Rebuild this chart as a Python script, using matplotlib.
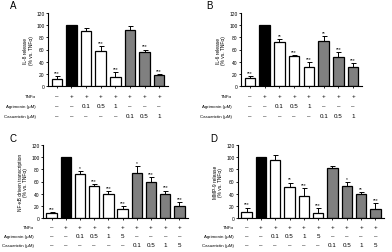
import matplotlib
matplotlib.use("Agg")
import matplotlib.pyplot as plt
import numpy as np

plt.rcParams["font.family"] = ["Liberation Sans", "DejaVu Sans"]

W, H = 392, 253

# panel A: IL-8
a_vals = [12, 100, 90, 58, 15, 92, 56, 18]
a_err = [4, 0, 5, 8, 8, 6, 4, 2]
a_sig = ["***", "", "", "***", "***", "", "***", "***"]
# panel B: IL-6
b_vals = [13, 100, 73, 50, 32, 74, 47, 32]
b_err = [3, 0, 4, 1, 7, 8, 9, 6]
b_sig = ["***", "", "**", "***", "***", "**", "***", "***"]
# panel C: NF-kB
c_vals = [8, 100, 72, 53, 40, 15, 74, 59, 40, 20]
c_err = [2, 0, 5, 3, 4, 5, 11, 8, 5, 6]
c_sig = ["***", "", "*", "***", "***", "***", "*", "***", "***", "***"]
# panel D: MMP-9
d_vals = [10, 100, 96, 51, 36, 9, 82, 53, 40, 14]
d_err = [7, 0, 7, 7, 13, 7, 3, 6, 3, 11]
d_sig = ["***", "", "", "**", "***", "***", "", "*", "**", "***"]

doses3 = ["0.1", "0.5", "1"]
doses4 = ["0.1", "0.5", "1", "5"]
yticks = [0, 20, 40, 60, 80, 100, 120]
row_names = ["TNFα", "Agrimonin (μM)", "Casuarictin (μM)"]

WHITE, BLACK, GRAY = "white", "black", "#808080"


def panel(letter, letter_xy, box, vals, err, sig, doses, ylabel, rows_y, label_x):
    left, right, top, bottom = box
    ax = fig.add_axes([left / W, 1 - bottom / H, (right - left) / W, (bottom - top) / H])
    n = len(doses)
    colors = [WHITE, BLACK] + [WHITE] * n + [GRAY] * n
    x = np.arange(len(vals))
    ax.bar(x, vals, width=0.72, color=colors, edgecolor="black", linewidth=0.9, zorder=2)
    ax.errorbar(x, vals, yerr=[np.zeros(len(err)), err], fmt="none", ecolor="black",
                elinewidth=0.7, capsize=1.8, capthick=0.7, zorder=1)
    for xi, v, e, s in zip(x, vals, err, sig):
        if s:
            ax.text(xi, v + e + 2, s, ha="center", va="bottom", fontsize=3.5)
    ax.set_ylim(0, 120)
    ax.set_xlim(-0.6, len(vals) - 0.4)
    ax.set_yticks(yticks)
    ax.set_xticks(x)
    ax.set_xticklabels([])
    ax.tick_params(axis="y", labelsize=3.5, length=1.5, width=0.6, pad=1)
    ax.tick_params(axis="x", length=1.5, width=0.6)
    ax.spines[["top", "right"]].set_visible(False)
    ax.spines[["left", "bottom"]].set_linewidth(0.8)
    ax.set_ylabel(ylabel, fontsize=3.5, labelpad=2, linespacing=1.1)

    tnf = ["–", "+"] + ["+"] * (2 * n)
    agr = ["–", "–"] + doses + ["–"] * n
    cas = ["–", "–"] + ["–"] * n + doses
    for ry, name, col in zip(rows_y, row_names, [tnf, agr, cas]):
        fy = 1 - ry / H
        fig.text(label_x / W, fy, name, ha="right", va="center", fontsize=3.2)
        for xi, t in zip(x, col):
            px = ax.transData.transform((xi, 0))[0]
            fig.text(px / fig.bbox.width, fy, t, ha="center", va="center", fontsize=4.5)
    fig.text(letter_xy[0] / W, 1 - letter_xy[1] / H, letter, ha="left", va="center", fontsize=7)
    return ax


fig = plt.figure(figsize=(W / 100, H / 100), dpi=100)

panel("A", (10, 6), (48, 168, 14, 87), a_vals, a_err, a_sig, doses3,
      "IL-8 release\n(% vs. TNFα)", (97, 107, 117), 36)
panel("B", (206, 6), (241, 362, 14, 87), b_vals, b_err, b_sig, doses3,
      "IL-6 release\n(% vs. TNFα)", (97, 107, 117), 232)
panel("C", (10, 139), (43, 188, 146, 219), c_vals, c_err, c_sig, doses4,
      "NF-κB driven transcription\n(% vs. TNFα)", (228, 237, 246), 34)
panel("D", (210, 139), (238, 384, 146, 219), d_vals, d_err, d_sig, doses4,
      "MMP-9 release\n(% vs. TNFα)", (228, 237, 246), 234)

fig.savefig("out.png", dpi=100)
